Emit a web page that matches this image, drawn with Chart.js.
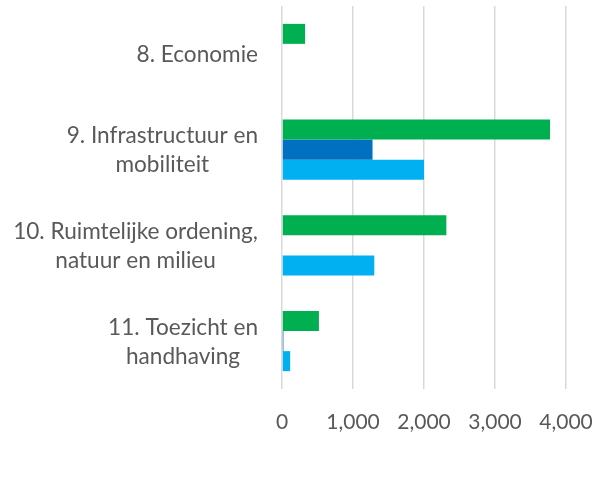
<!DOCTYPE html>
<html>
<head>
<meta charset="utf-8">
<script src="https://cdn.jsdelivr.net/npm/chart.js@4/dist/chart.umd.min.js"></script>
<style>
  html, body { margin: 0; padding: 0; background: #fff; }
  canvas { display: block; }
</style>
</head>
<body>
<canvas id="chart" width="597" height="493"></canvas>
<script>
// categories, each split into its wrapped lines
const categories = [
  ['8. Economie'],
  ['9. Infrastructuur en', 'mobiliteit'],
  ['10. Ruimtelijke ordening,', 'natuur en milieu'],
  ['11. Toezicht en', 'handhaving']
];

// series values
const seriesGreen = [325, 3775, 2315, 520];
const seriesDarkBlue = [0, 1275, 0, 20];
const seriesLightBlue = [0, 2000, 1300, 115];

const tickValues = [0, 1000, 2000, 3000, 4000];

const textColor = '#595959';
const labelFont = 'Lato, "Open Sans", sans-serif';

// draws the category labels right-aligned as a block, lines centred
const categoryLabels = {
  id: 'categoryLabels',
  afterDraw(chart) {
    const ctx = chart.ctx;
    const yScale = chart.scales.y;
    const right = chart.chartArea.left - 24;
    ctx.save();
    ctx.font = '22.6px ' + labelFont;
    ctx.fillStyle = textColor;
    ctx.textAlign = 'center';
    ctx.textBaseline = 'alphabetic';
    categories.forEach((lines, i) => {
      const cy = yScale.getPixelForTick(i);
      const w = Math.max(...lines.map(l => ctx.measureText(l).width));
      const cx = right - w / 2;
      lines.forEach((line, j) => {
        const y = cy + (j - (lines.length - 1) / 2) * 29 + 8;
        ctx.fillText(line, cx, y);
      });
    });
    ctx.restore();
  }
};

new Chart(document.getElementById('chart'), {
  type: 'bar',
  data: {
    labels: categories,
    datasets: [
      { label: 'Reeks 1', data: seriesGreen, backgroundColor: '#00B050' },
      { label: 'Reeks 2', data: seriesDarkBlue, backgroundColor: '#0070C0' },
      { label: 'Reeks 3', data: seriesLightBlue, backgroundColor: '#00B0F0' }
    ]
  },
  options: {
    indexAxis: 'y',
    responsive: false,
    animation: false,
    categoryPercentage: 0.627,
    barPercentage: 1,
    layout: { padding: { top: 6, right: 31, left: 0, bottom: 0 } },
    plugins: {
      legend: { display: false },
      tooltip: { enabled: false }
    },
    scales: {
      x: {
        min: 0,
        max: 4000,
        afterBuildTicks: scale => { scale.ticks = tickValues.map(v => ({ value: v })); },
        afterFit: scale => { scale.height = 104; },
        grid: { color: '#d9d9d9', lineWidth: 1.5, tickColor: 'rgba(0,0,0,0)', tickLength: 21 },
        border: { display: false },
        ticks: {
          padding: 0,
          color: textColor,
          font: { family: labelFont, size: 21 },
          maxRotation: 0,
          callback: v => v.toLocaleString('en-US')
        }
      },
      y: {
        afterFit: scale => { scale.width = 282; },
        grid: { display: false },
        border: { display: false },
        ticks: { display: false }
      }
    }
  },
  plugins: [categoryLabels]
});
</script>
</body>
</html>
